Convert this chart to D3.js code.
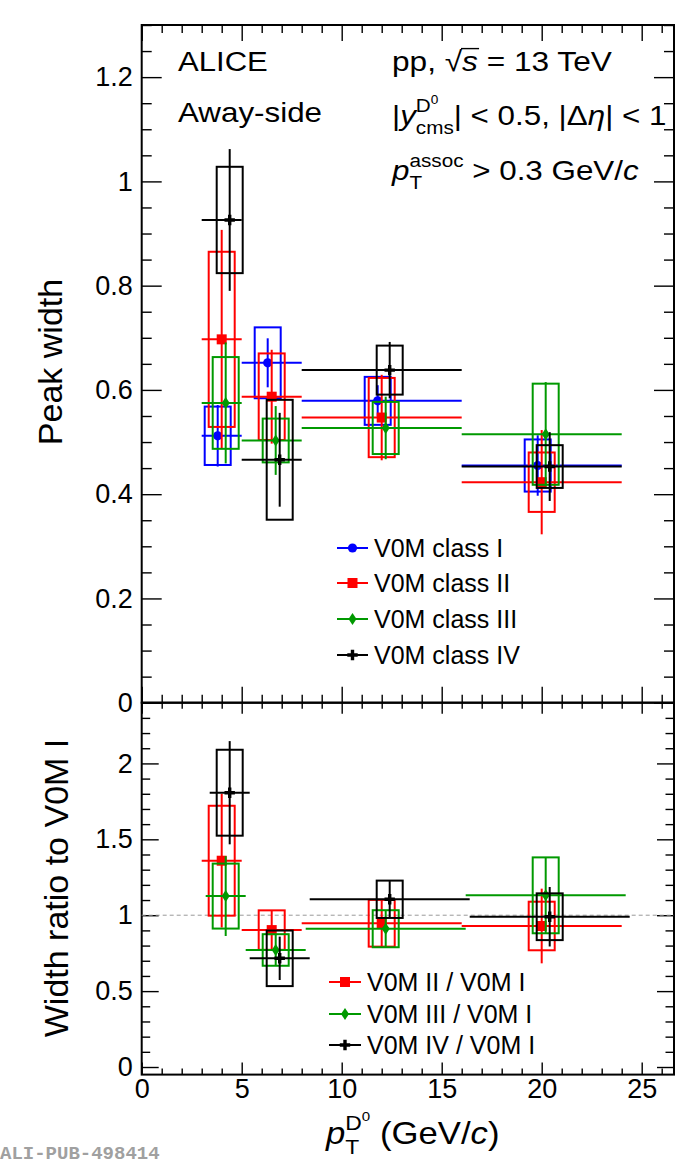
<!DOCTYPE html>
<html><head><meta charset="utf-8">
<script src="https://cdn.jsdelivr.net/npm/d3@7"></script>
<style>body{margin:0;background:#fff} svg{display:block} text{white-space:pre}</style>
</head><body>
<script>
// ================= DATA =================
// pT bins (GeV/c)
const binLo = [3, 5, 8, 16];
const binHi = [5, 8, 16, 24];

// Top panel: away-side peak width per V0M class
const classNames = ["V0M class I", "V0M class II", "V0M class III", "V0M class IV"];
const xClassI   = [3.8, 6.3, 11.8, 19.8];
const xClassII  = [4.0, 6.5, 12.0, 20.0];
const xClassIII = [4.2, 6.7, 12.2, 20.2];
const xClassIV  = [4.4, 6.9, 12.4, 20.4];
const widthI      = [0.512, 0.652, 0.579, 0.455];
const widthIStat  = [0.059, 0.047, 0.030, 0.058];
const widthISys   = [0.056, 0.068, 0.046, 0.050];
const widthII     = [0.697, 0.587, 0.547, 0.423];
const widthIIStat = [0.210, 0.090, 0.082, 0.100];
const widthIISys  = [0.168, 0.083, 0.076, 0.057];
const widthIII    = [0.575, 0.503, 0.527, 0.515];
const widthIIIStat= [0.116, 0.066, 0.060, 0.100];
const widthIIISys = [0.088, 0.042, 0.050, 0.097];
const widthIV     = [0.926, 0.466, 0.638, 0.453];
const widthIVStat = [0.136, 0.090, 0.054, 0.066];
const widthIVSys  = [0.102, 0.115, 0.047, 0.041];

// Bottom panel: ratio to V0M class I
const ratioNames = ["V0M II / V0M I", "V0M III / V0M I", "V0M IV / V0M I"];
const rxII   = [4.0, 6.5, 12.0, 20.0];
const rxLoII = [3.0, 5.0, 8.0, 16.0];
const rxHiII = [5.0, 8.0, 16.0, 24.0];
const rxIII   = [4.2, 6.7, 12.2, 20.2];
const rxLoIII = [3.2, 5.2, 8.2, 16.2];
const rxHiIII = [5.2, 8.2, 16.2, 24.2];
const rxIV   = [4.4, 6.9, 12.4, 20.4];
const rxLoIV = [3.4, 5.4, 8.4, 16.4];
const rxHiIV = [5.4, 8.4, 16.4, 24.4];
const ratioII      = [1.359, 0.902, 0.947, 0.929];
const ratioIIStat  = [0.440, 0.130, 0.160, 0.246];
const ratioIISys   = [0.362, 0.130, 0.154, 0.160];
const ratioIII     = [1.126, 0.771, 0.911, 1.131];
const ratioIIIStat = [0.263, 0.100, 0.120, 0.250];
const ratioIIISys  = [0.214, 0.104, 0.122, 0.250];
const ratioIV      = [1.807, 0.716, 1.105, 0.990];
const ratioIVStat  = [0.340, 0.143, 0.120, 0.196];
const ratioIVSys   = [0.283, 0.183, 0.123, 0.154];

// Ticks
const xTickValues = [0, 5, 10, 15, 20, 25];
const xTickLabels = ["0", "5", "10", "15", "20", "25"];
const yTopTickValues = [0, 0.2, 0.4, 0.6, 0.8, 1.0, 1.2];
const yTopTickLabels = ["0", "0.2", "0.4", "0.6", "0.8", "1", "1.2"];
const yBotTickValues = [0, 0.5, 1, 1.5, 2];
const yBotTickLabels = ["0", "0.5", "1", "1.5", "2"];

// ================= LAYOUT / STYLE =================
const W = 675, H = 1164;
const L = 141.7, R = 674;
const TOP = 25, MID = 702.7, BOT = 1074.6;
const BOXHALF = 0.65;
const FONT = "'Liberation Sans', Arial, Helvetica, sans-serif";
const colors = ["#0000ff", "#ff0000", "#009900", "#000000"];
const markers = ["circle", "square", "diamond", "cross"];

const svg = d3.select("body").append("svg").attr("width", W).attr("height", H)
  .style("font-family", FONT);

const x = d3.scaleLinear().domain([0, (R - L) / 20]).range([L, R]);
const yT = d3.scaleLinear().domain([0, 1.3]).range([MID, TOP]);
const yB = d3.scaleLinear().domain([-0.05, 2.4]).range([BOT, MID]);

const xMinor = d3.range(0, 27, 1).filter(v => v % 5 !== 0);
const yTopMinor = d3.range(0, 1.3001, 0.05).map(v => +v.toFixed(2)).filter(v => Math.abs(v / 0.2 - Math.round(v / 0.2)) > 1e-6);
const yBotMinor = d3.range(0, 2.4001, 0.1).map(v => +v.toFixed(2)).filter(v => Math.abs(v / 0.5 - Math.round(v / 0.5)) > 1e-6);

function styleAxis(g, fs) {
  g.select(".domain").remove();
  g.selectAll(".tick line").attr("stroke", "#000").attr("stroke-width", 1.4);
  g.selectAll("text").attr("font-size", fs).attr("font-family", FONT).attr("fill", "#000");
}
function axis(gen, tx, ty, fs) {
  const g = svg.append("g").attr("transform", `translate(${tx},${ty})`).call(gen);
  styleAxis(g, fs || 27);
  return g;
}

// ---- top panel axes ----
axis(d3.axisLeft(yT).tickValues(yTopTickValues).tickSize(-20).tickPadding(9)
  .tickFormat((d, i) => yTopTickLabels[i]), L, 0);
axis(d3.axisLeft(yT).tickValues(yTopMinor).tickSize(-10).tickFormat(""), L, 0);
axis(d3.axisRight(yT).tickValues(yTopTickValues).tickSize(-20).tickFormat(""), R, 0);
axis(d3.axisRight(yT).tickValues(yTopMinor).tickSize(-10).tickFormat(""), R, 0);
axis(d3.axisTop(x).tickValues(xTickValues).tickSize(-16).tickFormat(""), 0, TOP);
axis(d3.axisTop(x).tickValues(xMinor).tickSize(-8).tickFormat(""), 0, TOP);
axis(d3.axisBottom(x).tickValues(xTickValues).tickSize(-16).tickFormat(""), 0, MID);
axis(d3.axisBottom(x).tickValues(xMinor).tickSize(-8).tickFormat(""), 0, MID);

// ---- bottom panel axes ----
axis(d3.axisLeft(yB).tickValues(yBotTickValues).tickSize(-17).tickPadding(9)
  .tickFormat((d, i) => yBotTickLabels[i]), L, 0);
axis(d3.axisLeft(yB).tickValues(yBotMinor).tickSize(-8.5).tickFormat(""), L, 0);
axis(d3.axisRight(yB).tickValues(yBotTickValues).tickSize(-17).tickFormat(""), R, 0);
axis(d3.axisRight(yB).tickValues(yBotMinor).tickSize(-8.5).tickFormat(""), R, 0);
axis(d3.axisTop(x).tickValues(xTickValues).tickSize(-11).tickFormat(""), 0, MID);
axis(d3.axisTop(x).tickValues(xMinor).tickSize(-6).tickFormat(""), 0, MID);
axis(d3.axisBottom(x).tickValues(xTickValues).tickSize(-12).tickPadding(4)
  .tickFormat((d, i) => xTickLabels[i]), 0, BOT);
axis(d3.axisBottom(x).tickValues(xMinor).tickSize(-6).tickFormat(""), 0, BOT);

// frames
svg.append("rect").attr("x", L).attr("y", TOP).attr("width", R - L).attr("height", MID - TOP)
  .attr("fill", "none").attr("stroke", "#000").attr("stroke-width", 2);
svg.append("rect").attr("x", L).attr("y", MID).attr("width", R - L).attr("height", BOT - MID)
  .attr("fill", "none").attr("stroke", "#000").attr("stroke-width", 2);

// dashed unity line
svg.append("line").attr("x1", x(0)).attr("x2", R).attr("y1", yB(1)).attr("y2", yB(1))
  .attr("stroke", "#999").attr("stroke-width", 1).attr("stroke-dasharray", "4,3");

// ---- markers ----
function marker(g, type, cx, cy, color) {
  if (type === "circle") g.append("circle").attr("cx", cx).attr("cy", cy).attr("r", 4.6).attr("fill", color);
  else if (type === "square") g.append("rect").attr("x", cx - 5).attr("y", cy - 5).attr("width", 10).attr("height", 10).attr("fill", color);
  else if (type === "diamond") g.append("path").attr("d", `M${cx},${cy - 6}L${cx + 4},${cy}L${cx},${cy + 6}L${cx - 4},${cy}Z`).attr("fill", color);
  else {
    const a = 5.2, w = 1.7;
    g.append("path").attr("d",
      `M${cx - w},${cy - a}h${2 * w}v${a - w}h${a - w}v${2 * w}h${-(a - w)}v${a - w}h${-2 * w}v${-(a - w)}h${-(a - w)}v${-2 * w}h${a - w}Z`)
      .attr("fill", color);
  }
}

function drawSeries(ys, xs, xlo, xhi, vals, stat, sys, color, mk) {
  const g = svg.append("g");
  vals.forEach((v, i) => {
    g.append("rect").attr("x", x(xs[i] - BOXHALF)).attr("y", ys(v + sys[i]))
      .attr("width", x(xs[i] + BOXHALF) - x(xs[i] - BOXHALF)).attr("height", ys(v - sys[i]) - ys(v + sys[i]))
      .attr("fill", "none").attr("stroke", color).attr("stroke-width", 2);
    g.append("line").attr("x1", x(xlo[i])).attr("x2", x(xhi[i])).attr("y1", ys(v)).attr("y2", ys(v))
      .attr("stroke", color).attr("stroke-width", 2);
    g.append("line").attr("x1", x(xs[i])).attr("x2", x(xs[i])).attr("y1", ys(v - stat[i])).attr("y2", ys(v + stat[i]))
      .attr("stroke", color).attr("stroke-width", 2);
    marker(g, mk, x(xs[i]), ys(v), color);
  });
}

drawSeries(yT, xClassI, binLo, binHi, widthI, widthIStat, widthISys, colors[0], markers[0]);
drawSeries(yT, xClassII, binLo, binHi, widthII, widthIIStat, widthIISys, colors[1], markers[1]);
drawSeries(yT, xClassIII, binLo, binHi, widthIII, widthIIIStat, widthIIISys, colors[2], markers[2]);
drawSeries(yT, xClassIV, binLo, binHi, widthIV, widthIVStat, widthIVSys, colors[3], markers[3]);

drawSeries(yB, rxII, rxLoII, rxHiII, ratioII, ratioIIStat, ratioIISys, colors[1], markers[1]);
drawSeries(yB, rxIII, rxLoIII, rxHiIII, ratioIII, ratioIIIStat, ratioIIISys, colors[2], markers[2]);
drawSeries(yB, rxIV, rxLoIV, rxHiIV, ratioIV, ratioIVStat, ratioIVSys, colors[3], markers[3]);

// ---- legends ----
function legend(names, cols, mks, x1, x2, tx, rows) {
  names.forEach((n, i) => {
    const g = svg.append("g");
    g.append("line").attr("x1", x1).attr("x2", x2).attr("y1", rows[i]).attr("y2", rows[i])
      .attr("stroke", cols[i]).attr("stroke-width", 2);
    marker(g, mks[i], (x1 + x2) / 2, rows[i], cols[i]);
    g.append("text").attr("x", tx).attr("y", rows[i]).attr("dy", "0.36em")
      .attr("font-size", 25).text(n);
  });
}
legend(classNames, colors, markers, 337, 368, 374, [548, 583, 619, 655]);
legend(ratioNames, colors.slice(1), markers.slice(1), 329, 361, 367, [982, 1014, 1045]);

// ---- rich text helper ----
function run(g, list, px, by, size) {
  for (const s of list) {
    if (s.sup || s.sub) {
      const sz = size * 0.66;
      let e1 = px, e2 = px;
      if (s.sup) e1 = run(g, s.sup, px, by - size * 0.45, sz);
      if (s.sub) e2 = run(g, s.sub, px, by + size * 0.32, sz);
      px = Math.max(e1, e2);
    } else {
      const t = g.append("text").attr("x", px).attr("y", by).attr("font-size", size).text(s.t);
      if (s.it) t.attr("font-style", "italic");
      const w = t.node().getComputedTextLength();
      if (s.over) g.append("line").attr("x1", px - 1).attr("x2", px + w + 1)
        .attr("y1", by - size * 0.8).attr("y2", by - size * 0.8).attr("stroke", "#000").attr("stroke-width", 1.4);
      px += w;
    }
  }
  return px;
}
function rich(x0, y0, segs, size, sx) {
  const g = svg.append("g").attr("transform", `translate(${x0},${y0}) scale(${sx},1)`);
  run(g, segs, 0, 0, size);
  return g;
}

rich(178, 71, [{ t: "ALICE" }], 28, 1.11);
rich(178, 122, [{ t: "Away-side" }], 28, 1.12);
rich(392, 71, [{ t: "pp, " }, { t: "√" }, { t: "s", it: true, over: true }, { t: " = 13 TeV" }], 28, 1.13);
rich(392, 125, [{ t: "|" }, { t: "y", it: true },
  { sup: [{ t: "D" }, { sup: [{ t: "0" }] }], sub: [{ t: "cms" }] },
  { t: "| < 0.5, |Δ" }, { t: "η", it: true }, { t: "| < 1" }], 28, 1.12);
rich(392, 180, [{ t: "p", it: true }, { sup: [{ t: "assoc" }], sub: [{ t: "T" }] },
  { t: " > 0.3 GeV/" }, { t: "c", it: true }], 28, 1.12);

// axis titles
rich(326, 1144, [{ t: "p", it: true }, { sup: [{ t: "D" }, { sup: [{ t: "0" }] }], sub: [{ t: "T" }] },
  { t: " (GeV/" }, { t: "c", it: true }, { t: ")" }], 31, 1.12);
svg.append("text").attr("transform", "translate(62,362) rotate(-90)").attr("text-anchor", "middle")
  .attr("font-size", 34).text("Peak width");
svg.append("text").attr("transform", "translate(68,888) rotate(-90)").attr("text-anchor", "middle")
  .attr("font-size", 34).text("Width ratio to V0M I");

svg.append("text").attr("x", 0).attr("y", 1159).attr("font-family", "'Liberation Mono', 'DejaVu Sans Mono', monospace")
  .attr("font-weight", "bold").attr("font-size", 19).attr("fill", "#a0a0a0").text("ALI-PUB-498414");
</script>
</body></html>
